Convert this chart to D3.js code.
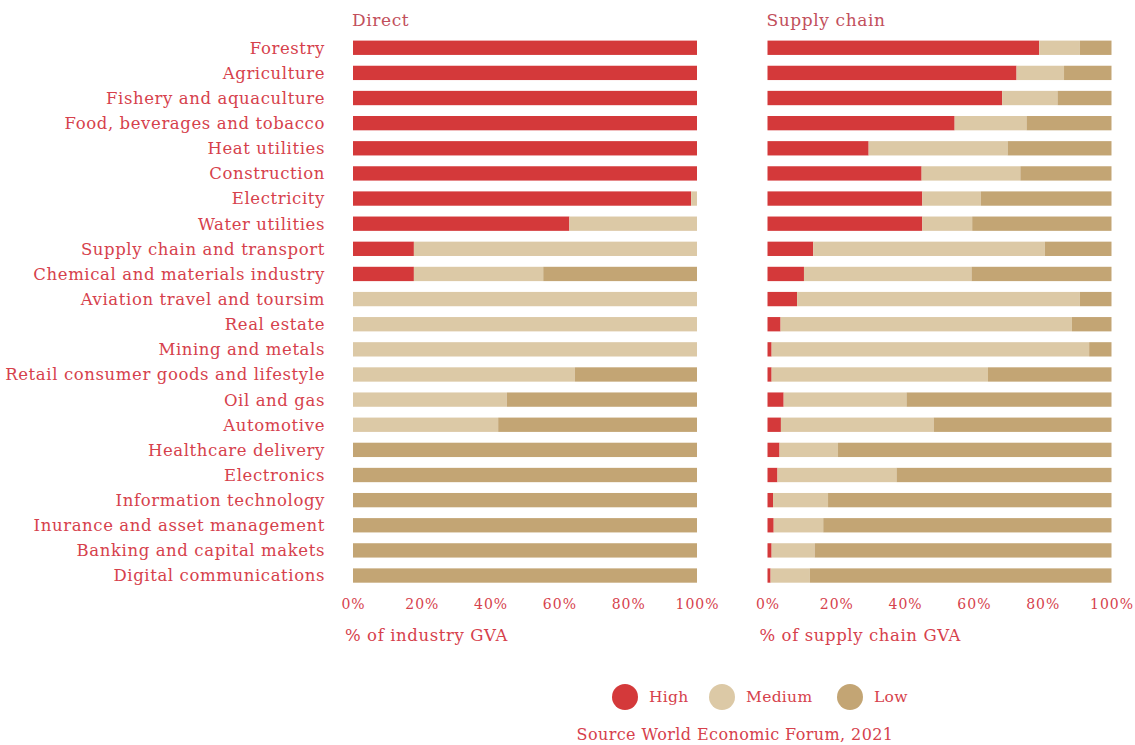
<!DOCTYPE html>
<html>
<head>
<meta charset="utf-8">
<script src="https://cdn.jsdelivr.net/npm/d3@7"></script>
<style>
  body { margin: 0; background: #fff; }
  svg text { font-family: "DejaVu Serif", serif; fill: #d6414c; }
</style>
</head>
<body>
<div id="chart"></div>
<script>
let width = 1135,
    height = 745;

const industries = ["Forestry", "Agriculture", "Fishery and aquaculture", "Food, beverages and tobacco",
  "Heat utilities", "Construction", "Electricity", "Water utilities", "Supply chain and transport",
  "Chemical and materials industry", "Aviation travel and toursim", "Real estate", "Mining and metals",
  "Retail consumer goods and lifestyle", "Oil and gas", "Automotive", "Healthcare delivery", "Electronics",
  "Information technology", "Inurance and asset management", "Banking and capital makets",
  "Digital communications"];

const levels = ["High", "Medium", "Low"];
const colors = ["#d4393a", "#dcc9a6", "#c3a574"];

// direct exposure, % of industry GVA
const directHigh   = [100, 100, 100, 100, 100, 100, 98.3, 62.9, 17.7, 17.7, 0, 0, 0, 0, 0, 0, 0, 0, 0, 0, 0, 0];
const directMedium = [0, 0, 0, 0, 0, 0, 1.7, 37.1, 82.3, 37.6, 100, 100, 100, 64.5, 44.7, 42.2, 0, 0, 0, 0, 0, 0];
const directLow    = [0, 0, 0, 0, 0, 0, 0, 0, 0, 44.7, 0, 0, 0, 35.5, 55.3, 57.8, 100, 100, 100, 100, 100, 100];

// supply chain exposure, % of supply chain GVA
const supplyHigh   = [79, 72.4, 68.2, 54.4, 29.4, 44.8, 45, 45, 13.3, 10.6, 8.6, 3.8, 1.2, 1.2, 4.7, 3.9, 3.5, 2.9, 1.6, 1.8, 1.2, 0.9];
const supplyMedium = [11.8, 13.8, 16.1, 20.9, 40.4, 28.7, 17, 14.5, 67.3, 48.7, 82.2, 84.7, 92.3, 62.9, 35.7, 44.4, 17, 34.6, 16, 14.4, 12.5, 11.4];
const supplyLow    = [9.2, 13.8, 15.7, 24.7, 30.2, 26.5, 38, 40.5, 19.4, 40.7, 9.2, 11.5, 6.5, 35.9, 59.6, 51.7, 79.5, 62.5, 82.4, 83.8, 86.3, 87.7];

const ticks = [0, 20, 40, 60, 80, 100];

const svg = d3.select("#chart")
  .append("svg")
  .attr("width", width)
  .attr("height", height);

const y = d3.scaleBand()
  .domain(industries)
  .range([35.2, 588.1])
  .paddingInner(0.43)
  .paddingOuter(0.215);

function stackRows(high, medium, low) {
  return industries.map((name, i) => ({ name: name, High: high[i], Medium: medium[i], Low: low[i] }));
}

const stack = d3.stack().keys(levels);

function panel(title, axisTitle, rows, x0, x1) {
  const x = d3.scaleLinear().domain([0, 100]).range([x0, x1]);
  const g = svg.append("g");

  g.append("text")
    .attr("x", x0 - 1)
    .attr("y", 26)
    .style("font-size", "17px")
    .style("letter-spacing", "0.6px")
    .style("fill", "#c24f5c")
    .text(title);

  const series = stack(rows);
  g.selectAll("g.layer")
    .data(series)
    .join("g")
    .attr("class", "layer")
    .attr("fill", (d, i) => colors[i])
    .selectAll("rect")
    .data(d => d)
    .join("rect")
    .attr("x", d => x(d[0]))
    .attr("width", d => Math.max(0, x(d[1]) - x(d[0])))
    .attr("y", d => y(d.data.name))
    .attr("height", y.bandwidth());

  const axis = g.append("g")
    .attr("transform", `translate(0,${y.range()[1] + 8})`)
    .call(d3.axisBottom(x).tickValues(ticks).tickFormat(d => d + "%").tickSize(0));
  axis.select(".domain").remove();
  axis.selectAll("text")
    .style("font-size", "14px")
    .style("letter-spacing", "1px")
    .attr("dy", "0.71em");

  g.append("text")
    .attr("x", x0 - 8)
    .attr("y", 641)
    .style("font-size", "16.5px")
    .style("letter-spacing", "0.6px")
    .text(axisTitle);
}

panel("Direct", "% of industry GVA", stackRows(directHigh, directMedium, directLow), 353, 697);
panel("Supply chain", "% of supply chain GVA", stackRows(supplyHigh, supplyMedium, supplyLow), 767.5, 1111.5);

// category labels
svg.append("g")
  .selectAll("text")
  .data(industries)
  .join("text")
  .attr("x", 325)
  .attr("y", d => y(d) + y.bandwidth() / 2)
  .attr("dy", "0.36em")
  .attr("text-anchor", "end")
  .style("font-size", "16.5px")
  .style("letter-spacing", "0.6px")
  .text(d => d);

// legend
const legendX = [625, 722, 850];
const legend = svg.append("g")
  .selectAll("g")
  .data(levels)
  .join("g")
  .attr("transform", (d, i) => `translate(${legendX[i]},697)`);

legend.append("circle")
  .attr("r", 13)
  .attr("fill", (d, i) => colors[i]);

legend.append("text")
  .attr("x", 24)
  .attr("dy", "0.35em")
  .style("font-size", "15.5px")
  .style("letter-spacing", "0.3px")
  .text(d => d);

svg.append("text")
  .attr("x", 735)
  .attr("y", 740)
  .attr("text-anchor", "middle")
  .style("font-size", "16px")
  .style("letter-spacing", "0.4px")
  .text("Source World Economic Forum, 2021");
</script>
</body>
</html>
